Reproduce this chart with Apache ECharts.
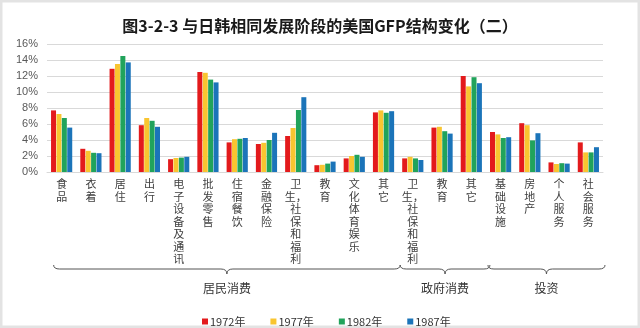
<!DOCTYPE html>
<html>
<head>
<meta charset="utf-8">
<script src="https://cdn.jsdelivr.net/npm/echarts@6/dist/echarts.min.js"></script>
<style>html,body{margin:0;padding:0;background:#fff}#c{width:640px;height:328px}</style>
</head>
<body>
<div id="c"></div>
<script>
const categories = ['食品','衣着','居住','出行','电子设备及通讯','批发零售','住宿餐饮','金融保险','卫生,社保和福利','教育','文化体育娱乐','其它','卫生,社保和福利','教育','其它','基础设施','房地产','个人服务','社会服务'];
const seriesNames = ['1972年','1977年','1982年','1987年'];
const v1972 = [7.7,2.9,12.9,5.85,1.6,12.5,3.7,3.5,4.5,0.85,1.7,7.45,1.7,5.55,12.0,5.0,6.1,1.2,3.7];
const v1977 = [7.25,2.65,13.5,6.75,1.75,12.4,4.1,3.65,5.5,0.9,2.0,7.7,1.9,5.65,10.7,4.7,5.85,1.0,2.45];
const v1982 = [6.75,2.4,14.5,6.4,1.8,11.55,4.15,4.0,7.75,1.05,2.15,7.4,1.7,5.1,11.85,4.25,3.95,1.1,2.45];
const v1987 = [5.55,2.35,13.7,5.65,1.9,11.2,4.25,4.9,9.35,1.3,1.9,7.6,1.5,4.8,11.1,4.35,4.85,1.05,3.1];
const yTicks = {min:0, max:16, interval:2};
const groups = [
  {name:'居民消费', from:0, to:11},
  {name:'政府消费', from:12, to:14},
  {name:'投资', from:15, to:18}
];
const colors = ['#e31a1c','#f9c530','#21a35b','#1b74b9'];
const values = [v1972, v1977, v1982, v1987];

const chart = echarts.init(document.getElementById('c'), null, {renderer:'canvas'});
const font = '"Noto Sans CJK SC", "Noto Sans", sans-serif';

function vert(s){
  if (s.indexOf(',') >= 0) {
    const parts = s.split(',');
    const a = parts[0].split('');
    a[a.length-1] = a[a.length-1] + '，';
    return a.concat(parts[1].split('')).join('\n');
  }
  return s.split('').join('\n');
}

const option = {
  backgroundColor:'#fff',
  animation:false,
  color: colors,
  title:{
    text:'图3-2-3 与日韩相同发展阶段的美国GFP结构变化（二）',
    left:'center', top:13,
    textStyle:{fontSize:16, fontWeight:'bold', color:'#1a1a1a', fontFamily:font}
  },
  grid:{left:47, right:37, top:44, bottom:156, containLabel:false},
  legend:{
    data:seriesNames, left:197, top:311, itemWidth:6, itemHeight:6, itemGap:25, icon:'rect',
    textStyle:{fontSize:11, color:'#333', fontFamily:font, padding:[0,0,0,-3]}
  },
  xAxis:{
    type:'category', data:categories,
    axisLine:{show:true, lineStyle:{color:'#d9d9d9'}},
    axisTick:{show:false},
    axisLabel:{interval:0, margin:6, fontSize:11, lineHeight:12.5, color:'#404040', fontFamily:font,
      verticalAlign:'top', formatter: v => vert(v)}
  },
  yAxis:{
    type:'value', min:yTicks.min, max:yTicks.max, interval:yTicks.interval,
    axisLine:{show:false}, axisTick:{show:false},
    axisLabel:{formatter:'{value}%', fontSize:11, color:'#595959', margin:9, fontFamily:'"Liberation Sans", Arial, sans-serif'},
    splitLine:{lineStyle:{color:'#d9d9d9', width:1}}
  },
  series: seriesNames.map((n,i)=>({
    name:n, type:'bar', data:values[i], barWidth:5, barGap:'8%'
  }))
};
chart.setOption(option);

// braces & group labels
const g = [];
const bStyle = {stroke:'#555', lineWidth:1, fill:null};
function curve(x1,y1,cx,cy,x2,y2){
  g.push({type:'bezierCurve', shape:{x1:x1,y1:y1,cpx1:cx,cpy1:cy,x2:x2,y2:y2}, style:bStyle, silent:true});
}
function seg(x1,y1,x2,y2){
  g.push({type:'line', shape:{x1:x1,y1:y1,x2:x2,y2:y2}, style:bStyle, silent:true});
}
groups.forEach((grp, gi) => {
  const c0 = chart.convertToPixel({xAxisIndex:0}, grp.from);
  const c1 = chart.convertToPixel({xAxisIndex:0}, grp.to);
  const step = chart.convertToPixel({xAxisIndex:0}, 1) - chart.convertToPixel({xAxisIndex:0}, 0);
  const half = step / 2;
  const xs = gi === 0 ? c0 - 8 : c0 - half + 2;
  const x1 = c1 + half + (gi === 1 ? 4 : 2);
  const tip = (xs + x1) / 2;
  const yTop = 265, yMid = 269, yTip = 274;
  curve(xs, yTop, xs, yMid, xs+6, yMid);
  seg(xs+6, yMid, tip-6, yMid);
  curve(tip-6, yMid, tip, yMid, tip, yTip);
  curve(tip, yTip, tip, yMid, tip+6, yMid);
  seg(tip+6, yMid, x1-6, yMid);
  curve(x1-6, yMid, x1, yMid, x1, yTop);
  g.push({type:'text', x:tip, y:288, style:{text:grp.name, fill:'#333', font:'12px ' + font, textAlign:'center', textVerticalAlign:'middle'}});
});
g.push({type:'rect', shape:{x:1, y:1, width:638, height:326}, style:{stroke:'#e3e3e3', lineWidth:3, fill:null}, silent:true});
chart.setOption({graphic:g});
</script>
</body>
</html>
